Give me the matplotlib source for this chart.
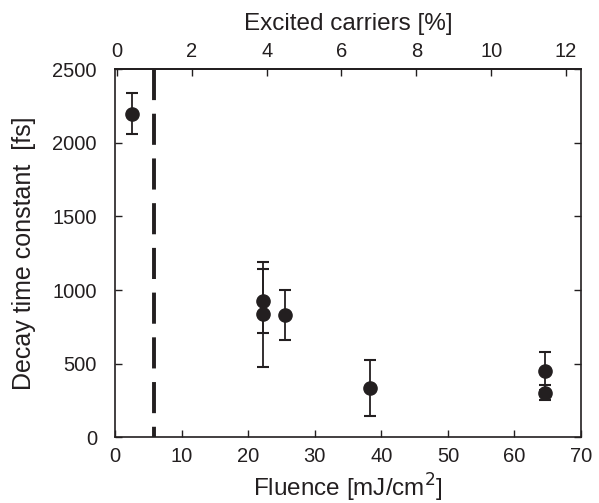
import matplotlib
matplotlib.use("Agg")
import numpy as np
import matplotlib.pyplot as plt

plt.rcParams['font.family'] = ['Liberation Sans', 'DejaVu Sans']

# data
fluence = [2.5, 22.3, 22.3, 25.5, 38.3, 64.6, 64.6]
decay = [2200, 925, 835, 830, 331, 451, 301]
decay_err = [140, 220, 355, 168, 190, 130, 50]

threshold_pct = 1.0
fl_per_pct = 5.62
fl_offset = 0.3

ink = '#231f20'

fig = plt.figure(figsize=(5.99, 5.03), dpi=100)
ax = fig.add_axes([0.192, 0.131, 0.778, 0.731])

ax.errorbar(fluence, decay, yerr=decay_err, fmt='o', color=ink, ms=9.5,
            elinewidth=1.3, capsize=4.5, capthick=1.5, zorder=3)

thr = fl_offset + threshold_pct * fl_per_pct
ax.plot([thr, thr], [2500, 0], color=ink, lw=2.8, dashes=[8, 3.5],
        solid_capstyle='butt', dash_capstyle='butt', zorder=2)

ax.set_xlim(0, 70)
ax.set_ylim(0, 2500)
ax.set_xticks(np.arange(0, 71, 10))
ax.set_yticks(np.arange(0, 2501, 500))
ax.tick_params(axis='x', direction='in', length=5, width=1, pad=7,
               labelsize=14.5, colors=ink, top=False)
ax.tick_params(axis='y', direction='in', length=5, width=1, pad=13,
               labelsize=14.5, colors=ink, right=True)
for s in ax.spines.values():
    s.set_linewidth(1.2)
    s.set_color(ink)

ax.set_xlabel('Fluence [mJ/cm$^2$]', fontsize=17.5, color=ink, labelpad=4)
ax.set_ylabel('Decay time constant  [fs]', fontsize=18, color=ink, labelpad=12)

sec = ax.secondary_xaxis('top', functions=(lambda f: (f - fl_offset) / fl_per_pct,
                                           lambda p: p * fl_per_pct + fl_offset))
sec.set_xticks(np.arange(0, 13, 2))
sec.tick_params(direction='in', length=5, width=1, pad=6, labelsize=14.5, colors=ink)
sec.spines['top'].set_linewidth(1.2)
sec.set_xlabel('Excited carriers [%]', fontsize=17.5, color=ink, labelpad=9)

fig.savefig('out.png', dpi=100)
